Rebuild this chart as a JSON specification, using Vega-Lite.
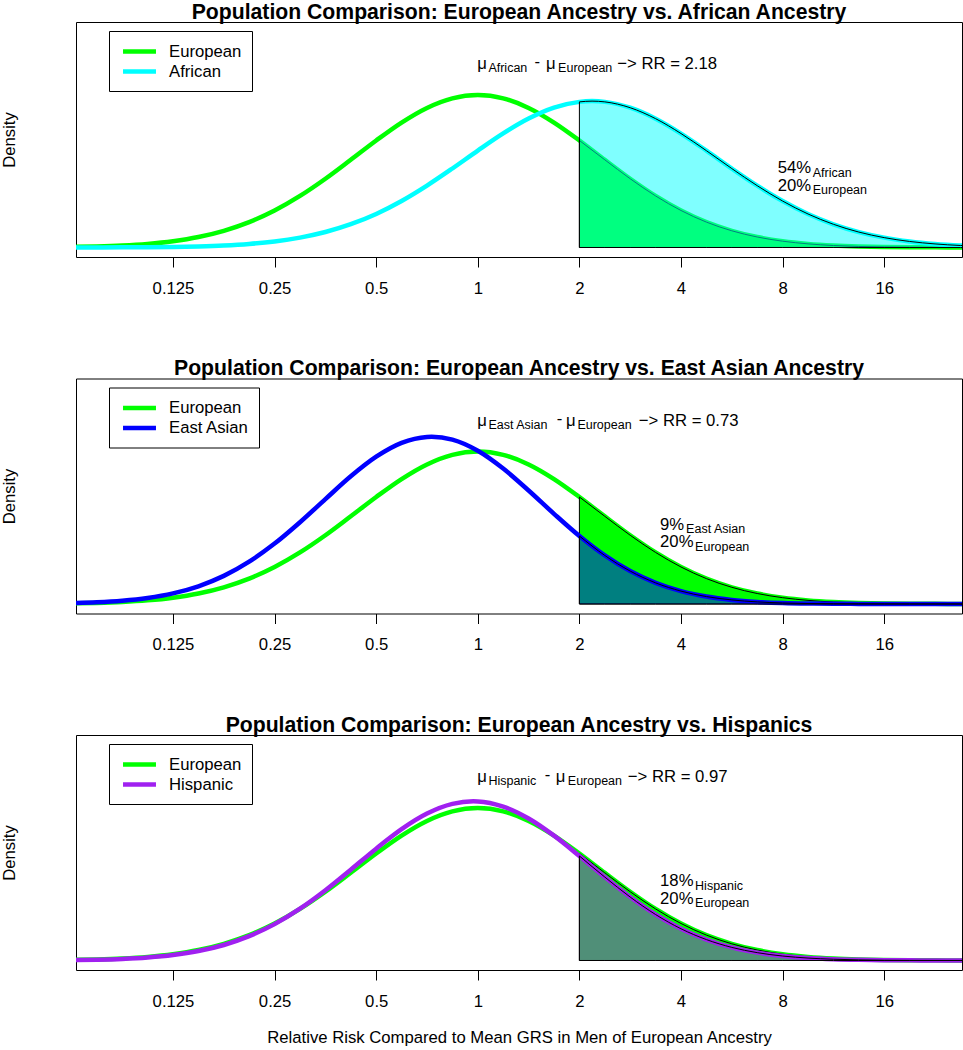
{
  "$schema": "https://vega.github.io/schema/vega-lite/v6.json",
  "padding": {"top": 1, "left": 0, "right": 0, "bottom": 0},
  "background": "white",
  "config": {
    "font": "Liberation Sans",
    "view": {"stroke": "black", "strokeWidth": 1},
    "title": {"fontSize": 21.2, "font": "Liberation Sans", "fontWeight": "bold", "color": "black", "anchor": "middle", "frame": "group", "offset": -0.7, "baseline": "alphabetic"},
    "axis": {"labelFont": "Liberation Sans", "titleFont": "Liberation Sans", "labelColor": "black", "titleColor": "black", "titleFontWeight": "normal"},
    "legend": {"strokeColor": "black", "fillColor": "white", "padding": 10, "symbolType": "M-2.06,0H2.06", "symbolSize": 256, "symbolStrokeWidth": 4.5, "labelFontSize": 16.7, "labelFont": "Liberation Sans", "labelColor": "black", "labelOffset": 19, "symbolOffset": 10, "rowPadding": -4, "cornerRadius": 0},
    "text": {"font": "Liberation Sans", "color": "black"}
  },
  "datasets": {
    "curves": [
      {"rr":0.0625,"group":"European","density":0.0017},{"rr":0.0743,"group":"European","density":0.0033},{"rr":0.0884,"group":"European","density":0.0063},{"rr":0.1051,"group":"European","density":0.0115},{"rr":0.125,"group":"European","density":0.0200},{"rr":0.1487,"group":"European","density":0.0333},{"rr":0.1768,"group":"European","density":0.0530},{"rr":0.2102,"group":"European","density":0.0806},{"rr":0.25,"group":"European","density":0.1175},{"rr":0.2973,"group":"European","density":0.1637},{"rr":0.3536,"group":"European","density":0.2183},{"rr":0.4204,"group":"European","density":0.2785},{"rr":0.5,"group":"European","density":0.3399},{"rr":0.5946,"group":"European","density":0.3969},{"rr":0.7071,"group":"European","density":0.4434},{"rr":0.8409,"group":"European","density":0.4738},{"rr":1,"group":"European","density":0.4844},{"rr":1.1892,"group":"European","density":0.4738},{"rr":1.4142,"group":"European","density":0.4434},{"rr":1.6818,"group":"European","density":0.3969},{"rr":2,"group":"European","density":0.3399},{"rr":2.3784,"group":"European","density":0.2785},{"rr":2.8284,"group":"European","density":0.2183},{"rr":3.3636,"group":"European","density":0.1637},{"rr":4,"group":"European","density":0.1175},{"rr":4.7568,"group":"European","density":0.0806},{"rr":5.6569,"group":"European","density":0.0530},{"rr":6.7272,"group":"European","density":0.0333},{"rr":8,"group":"European","density":0.0200},{"rr":9.5137,"group":"European","density":0.0115},{"rr":11.3137,"group":"European","density":0.0063},{"rr":13.4543,"group":"European","density":0.0033},{"rr":16,"group":"European","density":0.0017},{"rr":19.0273,"group":"European","density":0.0008},{"rr":22.6274,"group":"European","density":0.0004},{"rr":26.9087,"group":"European","density":0.0002},{"rr":32,"group":"European","density":0.0001},

      {"rr":0.0625,"group":"African","density":0.0001},{"rr":0.0743,"group":"African","density":0.0002},{"rr":0.0884,"group":"African","density":0.0004},{"rr":0.1051,"group":"African","density":0.0009},{"rr":0.125,"group":"African","density":0.0018},{"rr":0.1487,"group":"African","density":0.0035},{"rr":0.1768,"group":"African","density":0.0064},{"rr":0.2102,"group":"African","density":0.0113},{"rr":0.25,"group":"African","density":0.0192},{"rr":0.2973,"group":"African","density":0.0314},{"rr":0.3536,"group":"African","density":0.0491},{"rr":0.4204,"group":"African","density":0.0739},{"rr":0.5,"group":"African","density":0.1066},{"rr":0.5946,"group":"African","density":0.1478},{"rr":0.7071,"group":"African","density":0.1966},{"rr":0.8409,"group":"African","density":0.2510},{"rr":1,"group":"African","density":0.3078},{"rr":1.1892,"group":"African","density":0.3623},{"rr":1.4142,"group":"African","density":0.4094},{"rr":1.6818,"group":"African","density":0.4442},{"rr":2,"group":"African","density":0.4626},{"rr":2.18,"group":"African","density":0.4650},{"rr":2.3784,"group":"African","density":0.4626},{"rr":2.8284,"group":"African","density":0.4440},{"rr":3.3636,"group":"African","density":0.4092},{"rr":4,"group":"African","density":0.3620},{"rr":4.7568,"group":"African","density":0.3075},{"rr":5.6569,"group":"African","density":0.2507},{"rr":6.7272,"group":"African","density":0.1963},{"rr":8,"group":"African","density":0.1475},{"rr":9.5137,"group":"African","density":0.1064},{"rr":11.3137,"group":"African","density":0.0737},{"rr":13.4543,"group":"African","density":0.0490},{"rr":16,"group":"African","density":0.0313},{"rr":19.0273,"group":"African","density":0.0192},{"rr":22.6274,"group":"African","density":0.0113},{"rr":26.9087,"group":"African","density":0.0064},{"rr":32,"group":"African","density":0.0035},

      {"rr":0.0625,"group":"East Asian","density":0.0025},{"rr":0.0743,"group":"East Asian","density":0.0052},{"rr":0.0884,"group":"East Asian","density":0.0102},{"rr":0.1051,"group":"East Asian","density":0.0190},{"rr":0.125,"group":"East Asian","density":0.0336},{"rr":0.1487,"group":"East Asian","density":0.0563},{"rr":0.1768,"group":"East Asian","density":0.0893},{"rr":0.2102,"group":"East Asian","density":0.1345},{"rr":0.25,"group":"East Asian","density":0.1919},{"rr":0.2973,"group":"East Asian","density":0.2598},{"rr":0.3536,"group":"East Asian","density":0.3333},{"rr":0.4204,"group":"East Asian","density":0.4056},{"rr":0.5,"group":"East Asian","density":0.4679},{"rr":0.5946,"group":"East Asian","density":0.5118},{"rr":0.7071,"group":"East Asian","density":0.5307},{"rr":0.73,"group":"East Asian","density":0.5312},{"rr":0.8409,"group":"East Asian","density":0.5219},{"rr":1,"group":"East Asian","density":0.4866},{"rr":1.1892,"group":"East Asian","density":0.4301},{"rr":1.4142,"group":"East Asian","density":0.3605},{"rr":1.6818,"group":"East Asian","density":0.2865},{"rr":2,"group":"East Asian","density":0.2159},{"rr":2.3784,"group":"East Asian","density":0.1542},{"rr":2.8284,"group":"East Asian","density":0.1045},{"rr":3.3636,"group":"East Asian","density":0.0671},{"rr":4,"group":"East Asian","density":0.0409},{"rr":4.7568,"group":"East Asian","density":0.0236},{"rr":5.6569,"group":"East Asian","density":0.0129},{"rr":6.7272,"group":"East Asian","density":0.0067},{"rr":8,"group":"East Asian","density":0.0033},{"rr":9.5137,"group":"East Asian","density":0.0015},{"rr":11.3137,"group":"East Asian","density":0.0007},{"rr":13.4543,"group":"East Asian","density":0.0003},{"rr":16,"group":"East Asian","density":0.0001},{"rr":19.0273,"group":"East Asian","density":0.0},{"rr":22.6274,"group":"East Asian","density":0.0},{"rr":26.9087,"group":"East Asian","density":0.0},{"rr":32,"group":"East Asian","density":0.0},

      {"rr":0.0625,"group":"Hispanic","density":0.0012},{"rr":0.0743,"group":"Hispanic","density":0.0025},{"rr":0.0884,"group":"Hispanic","density":0.0050},{"rr":0.1051,"group":"Hispanic","density":0.0096},{"rr":0.125,"group":"Hispanic","density":0.0174},{"rr":0.1487,"group":"Hispanic","density":0.0300},{"rr":0.1768,"group":"Hispanic","density":0.0493},{"rr":0.2102,"group":"Hispanic","density":0.0773},{"rr":0.25,"group":"Hispanic","density":0.1155},{"rr":0.2973,"group":"Hispanic","density":0.1645},{"rr":0.3536,"group":"Hispanic","density":0.2231},{"rr":0.4204,"group":"Hispanic","density":0.2884},{"rr":0.5,"group":"Hispanic","density":0.3553},{"rr":0.5946,"group":"Hispanic","density":0.4171},{"rr":0.7071,"group":"Hispanic","density":0.4666},{"rr":0.8409,"group":"Hispanic","density":0.4974},{"rr":0.97,"group":"Hispanic","density":0.5056},{"rr":1,"group":"Hispanic","density":0.5053},{"rr":1.1892,"group":"Hispanic","density":0.4890},{"rr":1.4142,"group":"Hispanic","density":0.4511},{"rr":1.6818,"group":"Hispanic","density":0.3965},{"rr":2,"group":"Hispanic","density":0.3320},{"rr":2.3784,"group":"Hispanic","density":0.2650},{"rr":2.8284,"group":"Hispanic","density":0.2015},{"rr":3.3636,"group":"Hispanic","density":0.1460},{"rr":4,"group":"Hispanic","density":0.1008},{"rr":4.7568,"group":"Hispanic","density":0.0664},{"rr":5.6569,"group":"Hispanic","density":0.0416},{"rr":6.7272,"group":"Hispanic","density":0.0249},{"rr":8,"group":"Hispanic","density":0.0142},{"rr":9.5137,"group":"Hispanic","density":0.0077},{"rr":11.3137,"group":"Hispanic","density":0.0040},{"rr":13.4543,"group":"Hispanic","density":0.0020},{"rr":16,"group":"Hispanic","density":0.0009},{"rr":19.0273,"group":"Hispanic","density":0.0004},{"rr":22.6274,"group":"Hispanic","density":0.0002},{"rr":26.9087,"group":"Hispanic","density":0.0001},{"rr":32,"group":"Hispanic","density":0.0}
    ]
  },
  "spacing": 59.5,
  "resolve": {"scale": {"color": "independent"}, "legend": {"color": "independent"}},
  "vconcat": [
    {
      "width": 886, "height": 235,
      "title": {"text": "Population Comparison: European Ancestry vs. African Ancestry"},
      "data": {"name": "curves"},
      "encoding": {
        "x": {"field": "rr", "type": "quantitative", "scale": {"type": "log", "base": 2, "domain": [0.0645, 27.2], "nice": false, "zero": false},
              "axis": {"values": [0.125, 0.25, 0.5, 1, 2, 4, 8, 16], "labelExpr": "datum.value + ''", "title": null, "domain": false, "grid": false, "tickSize": 10, "tickColor": "black", "tickWidth": 1, "labelFontSize": 16.7, "labelPadding": 13, "labelFlush": false, "labelOverlap": false}},
        "y": {"field": "density", "type": "quantitative", "scale": {"domain": [-0.0302, 0.7163], "nice": false, "zero": false},
              "axis": {"title": "Density", "labels": false, "ticks": false, "domain": false, "grid": false, "titleFontSize": 16.7, "titlePadding": 58}}
      },
      "layer": [
        {"transform": [{"filter": "datum.group === 'European'"}],
         "mark": {"type": "line", "strokeWidth": 4.5, "interpolate": "monotone", "clip": true},
         "encoding": {"color": {"field": "group", "type": "nominal", "scale": {"domain": ["European", "African"], "range": ["#00FF00", "#00FFFF"]}, "legend": {"title": null, "orient": "none", "legendX": 33, "legendY": 9}}}},
        {"transform": [{"filter": "datum.group === 'European' && datum.rr >= 2"}],
         "mark": {"type": "area", "fill": "#00FF00", "stroke": "black", "strokeWidth": 1, "interpolate": "monotone", "clip": true},
         "encoding": {"y2": {"datum": 0}}},
        {"transform": [{"filter": "datum.group === 'African'"}],
         "mark": {"type": "line", "strokeWidth": 4.5, "interpolate": "monotone", "clip": true},
         "encoding": {"color": {"field": "group", "type": "nominal", "scale": {"domain": ["European", "African"], "range": ["#00FF00", "#00FFFF"]}, "legend": {"title": null, "orient": "none", "legendX": 33, "legendY": 9}}}},
        {"transform": [{"filter": "datum.group === 'African' && datum.rr >= 2"}],
         "mark": {"type": "area", "fill": "#00FFFF", "fillOpacity": 0.5, "stroke": "black", "strokeWidth": 1, "interpolate": "monotone", "clip": true},
         "encoding": {"y2": {"datum": 0}}},
        {"data": {"values": [{"rr": 1, "density": 0.567, "label": "μ"}]}, "mark": {"type": "text", "align": "left", "baseline": "alphabetic", "fontSize": 16.7, "dx": -0.5}, "encoding": {"text": {"field": "label"}}},
        {"data": {"values": [{"rr": 1, "density": 0.567, "label": "African"}]}, "mark": {"type": "text", "align": "left", "baseline": "alphabetic", "fontSize": 12.5, "dx": 10.6, "dy": 3}, "encoding": {"text": {"field": "label"}}},
        {"data": {"values": [{"rr": 1, "density": 0.567, "label": "-"}]}, "mark": {"type": "text", "align": "left", "baseline": "alphabetic", "fontSize": 16.7, "dx": 56.6, "dy": -2}, "encoding": {"text": {"field": "label"}}},
        {"data": {"values": [{"rr": 1, "density": 0.567, "label": "μ"}]}, "mark": {"type": "text", "align": "left", "baseline": "alphabetic", "fontSize": 16.7, "dx": 68.3}, "encoding": {"text": {"field": "label"}}},
        {"data": {"values": [{"rr": 1, "density": 0.567, "label": "European"}]}, "mark": {"type": "text", "align": "left", "baseline": "alphabetic", "fontSize": 12.5, "dx": 80.3, "dy": 3}, "encoding": {"text": {"field": "label"}}},
        {"data": {"values": [{"rr": 1, "density": 0.567, "label": "−> RR = 2.18"}]}, "mark": {"type": "text", "align": "left", "baseline": "alphabetic", "fontSize": 16.7, "dx": 139.5}, "encoding": {"text": {"field": "label"}}},
        {"data": {"values": [{"rr": 7.74, "density": 0.236, "label": "54%"}, {"rr": 7.74, "density": 0.18, "label": "20%"}]}, "mark": {"type": "text", "align": "left", "baseline": "alphabetic", "fontSize": 16.7}, "encoding": {"text": {"field": "label"}}},
        {"data": {"values": [{"rr": 7.74, "density": 0.236, "label": "African"}, {"rr": 7.74, "density": 0.18, "label": "European"}]}, "mark": {"type": "text", "align": "left", "baseline": "alphabetic", "fontSize": 12.5, "dx": 35, "dy": 3.5}, "encoding": {"text": {"field": "label"}}}
      ]
    },
    {
      "width": 886, "height": 235,
      "title": {"text": "Population Comparison: European Ancestry vs. East Asian Ancestry"},
      "data": {"name": "curves"},
      "encoding": {
        "x": {"field": "rr", "type": "quantitative", "scale": {"type": "log", "base": 2, "domain": [0.0645, 27.2], "nice": false, "zero": false},
              "axis": {"values": [0.125, 0.25, 0.5, 1, 2, 4, 8, 16], "labelExpr": "datum.value + ''", "title": null, "domain": false, "grid": false, "tickSize": 10, "tickColor": "black", "tickWidth": 1, "labelFontSize": 16.7, "labelPadding": 13, "labelFlush": false, "labelOverlap": false}},
        "y": {"field": "density", "type": "quantitative", "scale": {"domain": [-0.0302, 0.7163], "nice": false, "zero": false},
              "axis": {"title": "Density", "labels": false, "ticks": false, "domain": false, "grid": false, "titleFontSize": 16.7, "titlePadding": 58}}
      },
      "layer": [
        {"transform": [{"filter": "datum.group === 'European'"}],
         "mark": {"type": "line", "strokeWidth": 4.5, "interpolate": "monotone", "clip": true},
         "encoding": {"color": {"field": "group", "type": "nominal", "scale": {"domain": ["European", "East Asian"], "range": ["#00FF00", "#0000FF"]}, "legend": {"title": null, "orient": "none", "legendX": 33, "legendY": 9}}}},
        {"transform": [{"filter": "datum.group === 'European' && datum.rr >= 2"}],
         "mark": {"type": "area", "fill": "#00FF00", "stroke": "black", "strokeWidth": 1, "interpolate": "monotone", "clip": true},
         "encoding": {"y2": {"datum": 0}}},
        {"transform": [{"filter": "datum.group === 'East Asian'"}],
         "mark": {"type": "line", "strokeWidth": 4.5, "interpolate": "monotone", "clip": true},
         "encoding": {"color": {"field": "group", "type": "nominal", "scale": {"domain": ["European", "East Asian"], "range": ["#00FF00", "#0000FF"]}, "legend": {"title": null, "orient": "none", "legendX": 33, "legendY": 9}}}},
        {"transform": [{"filter": "datum.group === 'East Asian' && datum.rr >= 2"}],
         "mark": {"type": "area", "fill": "#0000FF", "fillOpacity": 0.5, "stroke": "black", "strokeWidth": 1, "interpolate": "monotone", "clip": true},
         "encoding": {"y2": {"datum": 0}}},
        {"data": {"values": [{"rr": 1, "density": 0.567, "label": "μ"}]}, "mark": {"type": "text", "align": "left", "baseline": "alphabetic", "fontSize": 16.7, "dx": -0.5}, "encoding": {"text": {"field": "label"}}},
        {"data": {"values": [{"rr": 1, "density": 0.567, "label": "East Asian"}]}, "mark": {"type": "text", "align": "left", "baseline": "alphabetic", "fontSize": 12.5, "dx": 10.6, "dy": 3}, "encoding": {"text": {"field": "label"}}},
        {"data": {"values": [{"rr": 1, "density": 0.567, "label": "-"}]}, "mark": {"type": "text", "align": "left", "baseline": "alphabetic", "fontSize": 16.7, "dx": 79, "dy": -2}, "encoding": {"text": {"field": "label"}}},
        {"data": {"values": [{"rr": 1, "density": 0.567, "label": "μ"}]}, "mark": {"type": "text", "align": "left", "baseline": "alphabetic", "fontSize": 16.7, "dx": 88.3}, "encoding": {"text": {"field": "label"}}},
        {"data": {"values": [{"rr": 1, "density": 0.567, "label": "European"}]}, "mark": {"type": "text", "align": "left", "baseline": "alphabetic", "fontSize": 12.5, "dx": 99.6, "dy": 3}, "encoding": {"text": {"field": "label"}}},
        {"data": {"values": [{"rr": 1, "density": 0.567, "label": "−> RR = 0.73"}]}, "mark": {"type": "text", "align": "left", "baseline": "alphabetic", "fontSize": 16.7, "dx": 161}, "encoding": {"text": {"field": "label"}}},
        {"data": {"values": [{"rr": 3.468, "density": 0.236, "label": "9%"}, {"rr": 3.468, "density": 0.18, "label": "20%"}]}, "mark": {"type": "text", "align": "left", "baseline": "alphabetic", "fontSize": 16.7}, "encoding": {"text": {"field": "label"}}},
        {"data": {"values": [{"rr": 3.468, "density": 0.236, "label": "East Asian"}]}, "mark": {"type": "text", "align": "left", "baseline": "alphabetic", "fontSize": 12.5, "dx": 26, "dy": 3.5}, "encoding": {"text": {"field": "label"}}},
        {"data": {"values": [{"rr": 3.468, "density": 0.18, "label": "European"}]}, "mark": {"type": "text", "align": "left", "baseline": "alphabetic", "fontSize": 12.5, "dx": 35, "dy": 3.5}, "encoding": {"text": {"field": "label"}}}
      ]
    },
    {
      "width": 886, "height": 235,
      "title": {"text": "Population Comparison: European Ancestry vs. Hispanics"},
      "data": {"name": "curves"},
      "encoding": {
        "x": {"field": "rr", "type": "quantitative", "scale": {"type": "log", "base": 2, "domain": [0.0645, 27.2], "nice": false, "zero": false},
              "axis": {"values": [0.125, 0.25, 0.5, 1, 2, 4, 8, 16], "labelExpr": "datum.value + ''", "title": "Relative Risk Compared to Mean GRS in Men of European Ancestry", "titleFontSize": 16.7, "titlePadding": 20, "domain": false, "grid": false, "tickSize": 10, "tickColor": "black", "tickWidth": 1, "labelFontSize": 16.7, "labelPadding": 13, "labelFlush": false, "labelOverlap": false}},
        "y": {"field": "density", "type": "quantitative", "scale": {"domain": [-0.0302, 0.7163], "nice": false, "zero": false},
              "axis": {"title": "Density", "labels": false, "ticks": false, "domain": false, "grid": false, "titleFontSize": 16.7, "titlePadding": 58}}
      },
      "layer": [
        {"transform": [{"filter": "datum.group === 'European'"}],
         "mark": {"type": "line", "strokeWidth": 4.5, "interpolate": "monotone", "clip": true},
         "encoding": {"color": {"field": "group", "type": "nominal", "scale": {"domain": ["European", "Hispanic"], "range": ["#00FF00", "#A020F0"]}, "legend": {"title": null, "orient": "none", "legendX": 33, "legendY": 9}}}},
        {"transform": [{"filter": "datum.group === 'European' && datum.rr >= 2"}],
         "mark": {"type": "area", "fill": "#00FF00", "stroke": "black", "strokeWidth": 1, "interpolate": "monotone", "clip": true},
         "encoding": {"y2": {"datum": 0}}},
        {"transform": [{"filter": "datum.group === 'Hispanic'"}],
         "mark": {"type": "line", "strokeWidth": 4.5, "interpolate": "monotone", "clip": true},
         "encoding": {"color": {"field": "group", "type": "nominal", "scale": {"domain": ["European", "Hispanic"], "range": ["#00FF00", "#A020F0"]}, "legend": {"title": null, "orient": "none", "legendX": 33, "legendY": 9}}}},
        {"transform": [{"filter": "datum.group === 'Hispanic' && datum.rr >= 2"}],
         "mark": {"type": "area", "fill": "#A020F0", "fillOpacity": 0.5, "stroke": "black", "strokeWidth": 1, "interpolate": "monotone", "clip": true},
         "encoding": {"y2": {"datum": 0}}},
        {"data": {"values": [{"rr": 1, "density": 0.567, "label": "μ"}]}, "mark": {"type": "text", "align": "left", "baseline": "alphabetic", "fontSize": 16.7, "dx": -0.5}, "encoding": {"text": {"field": "label"}}},
        {"data": {"values": [{"rr": 1, "density": 0.567, "label": "Hispanic"}]}, "mark": {"type": "text", "align": "left", "baseline": "alphabetic", "fontSize": 12.5, "dx": 10.6, "dy": 3}, "encoding": {"text": {"field": "label"}}},
        {"data": {"values": [{"rr": 1, "density": 0.567, "label": "-"}]}, "mark": {"type": "text", "align": "left", "baseline": "alphabetic", "fontSize": 16.7, "dx": 67, "dy": -2}, "encoding": {"text": {"field": "label"}}},
        {"data": {"values": [{"rr": 1, "density": 0.567, "label": "μ"}]}, "mark": {"type": "text", "align": "left", "baseline": "alphabetic", "fontSize": 16.7, "dx": 78}, "encoding": {"text": {"field": "label"}}},
        {"data": {"values": [{"rr": 1, "density": 0.567, "label": "European"}]}, "mark": {"type": "text", "align": "left", "baseline": "alphabetic", "fontSize": 12.5, "dx": 90, "dy": 3}, "encoding": {"text": {"field": "label"}}},
        {"data": {"values": [{"rr": 1, "density": 0.567, "label": "−> RR = 0.97"}]}, "mark": {"type": "text", "align": "left", "baseline": "alphabetic", "fontSize": 16.7, "dx": 150}, "encoding": {"text": {"field": "label"}}},
        {"data": {"values": [{"rr": 3.468, "density": 0.236, "label": "18%"}, {"rr": 3.468, "density": 0.18, "label": "20%"}]}, "mark": {"type": "text", "align": "left", "baseline": "alphabetic", "fontSize": 16.7}, "encoding": {"text": {"field": "label"}}},
        {"data": {"values": [{"rr": 3.468, "density": 0.236, "label": "Hispanic"}, {"rr": 3.468, "density": 0.18, "label": "European"}]}, "mark": {"type": "text", "align": "left", "baseline": "alphabetic", "fontSize": 12.5, "dx": 35, "dy": 3.5}, "encoding": {"text": {"field": "label"}}}
      ]
    }
  ]
}
